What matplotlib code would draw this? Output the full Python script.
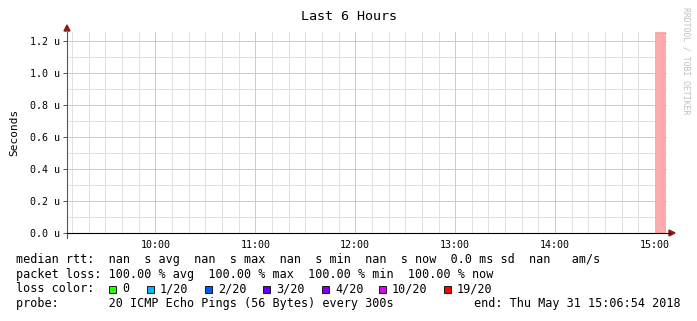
import matplotlib
matplotlib.use("Agg")
import matplotlib.pyplot as plt
from matplotlib.patches import Rectangle
import numpy as np

# time axis in hours of the day (end: 15:06:54, 6 hours back)
t_end = 15 + 6 / 60 + 54 / 3600
t_start = t_end - 6
hour_ticks = [10, 11, 12, 13, 14, 15]
hour_labels = ["10:00", "11:00", "12:00", "13:00", "14:00", "15:00"]

# loss samples (only the last one has data: 100% loss)
loss_t0 = [15.0]
loss_t1 = [t_end]
loss_val = [1.0]

y_ticks = [0.0, 0.2, 0.4, 0.6, 0.8, 1.0, 1.2]
y_top = 1.256

legend_lines = [
    "median rtt:  nan  s avg  nan  s max  nan  s min  nan  s now  0.0 ms sd  nan   am/s",
    "packet loss: 100.00 % avg  100.00 % max  100.00 % min  100.00 % now",
]
loss_labels = ["0", "1/20", "2/20", "3/20", "4/20", "10/20", "19/20"]
loss_colors = ["#26ff00", "#00b8ff", "#0059ff", "#5e00ff", "#7e00ff", "#dd00ff", "#ff0000"]
loss_box_x = [109, 147, 205, 263, 322, 379, 444]
probe_text = "probe:       20 ICMP Echo Pings (56 Bytes) every 300s"
end_text = "end: Thu May 31 15:06:54 2018"

W, H = 697, 321
fig = plt.figure(figsize=(W / 100, H / 100), dpi=100)
ax = fig.add_axes([67 / W, 1 - 233 / H, (666.5 - 67) / W, (233 - 32) / H])
mono = "DejaVu Sans Mono"
fs = 8.45

ax.set_xlim(t_start, t_end)
ax.set_ylim(0, y_top)

# grid, crisp 1px lines like rrdtool
grid_kw = dict(lw=0.72, antialiased=False)
for m in np.arange(9 + 10 / 60, t_end, 10 / 60):
    ax.axvline(m, color="#e0e0e0", zorder=0, **grid_kw)
for h in hour_ticks:
    ax.axvline(h, color="#f0bcbc", zorder=0.5, **grid_kw)
for y in np.arange(0.1, 1.25, 0.2):
    ax.axhline(y, color="#e0e0e0", zorder=0, **grid_kw)
for y in y_ticks[1:]:
    ax.axhline(y, color="#f0bcbc", zorder=0.5, **grid_kw)

# loss bars
for a, b, v in zip(loss_t0, loss_t1, loss_val):
    ax.bar(a, v * y_top, width=b - a, align="edge", color="#ffaaaa", lw=0, zorder=1)
    ax.plot([a, b], [y_top * 0.997] * 2, color="#d0a8f0", lw=0.7, zorder=1.5)

for s in ["top", "right"]:
    ax.spines[s].set_visible(False)
ax.spines["bottom"].set_color("black")
ax.spines["left"].set_color("#555555")
ax.spines["left"].set_bounds(-0.03, y_top)

ax.set_xticks(hour_ticks)
ax.set_xticklabels(hour_labels, family=mono, fontsize=7.2)
ax.set_yticks(y_ticks)
ax.set_yticklabels(["%.1f u" % v for v in y_ticks], family=mono, fontsize=7.2)
ax.tick_params(axis="x", length=0, pad=5)
ax.tick_params(axis="y", length=3, width=0.7, color="#555555", pad=2)
ax.set_ylabel("Seconds", family=mono, fontsize=8, labelpad=8)

# axis arrows
fig.patches.append(plt.Polygon([[64 / W, 1 - 31 / H], [70 / W, 1 - 31 / H], [67 / W, 1 - 25 / H]],
                               closed=True, color="#8b1a1a", transform=fig.transFigure))
fig.patches.append(plt.Polygon([[669 / W, 1 - 230 / H], [669 / W, 1 - 236 / H], [675 / W, 1 - 233 / H]],
                               closed=True, color="#8b1a1a", transform=fig.transFigure))
fig.add_artist(plt.Line2D([666.5 / W, 670 / W], [1 - 233 / H] * 2, color="black", lw=0.8))

fig.text(349 / W, 1 - 16 / H, "Last 6 Hours", family=mono, fontsize=9.6, ha="center", va="center")
fig.text(686 / W, 1 - 7 / H, "RRDTOOL / TOBI OETIKER", family=mono, fontsize=5.9,
         rotation=270, ha="center", va="top", color="#c0c0c0")

# legend area
for i, line in enumerate(legend_lines):
    fig.text(16 / W, 1 - (260 + 14.5 * i) / H, line, family=mono, fontsize=fs, va="center")
y3 = 1 - 289 / H
fig.text(16 / W, y3, "loss color:", family=mono, fontsize=fs, va="center")
for bx, lab, col in zip(loss_box_x, loss_labels, loss_colors):
    fig.patches.append(Rectangle((bx / W, 1 - 293 / H), 7 / W, 7 / H, facecolor=col,
                                 edgecolor="black", lw=0.6, transform=fig.transFigure))
    fig.text((bx + 13) / W, y3, lab, family=mono, fontsize=fs, va="center")
fig.text(16 / W, 1 - 303 / H, probe_text, family=mono, fontsize=fs, va="center")
fig.text(681 / W, 1 - 303 / H, end_text, family=mono, fontsize=fs, va="center", ha="right")

fig.savefig("out.png", dpi=100, facecolor="white")
